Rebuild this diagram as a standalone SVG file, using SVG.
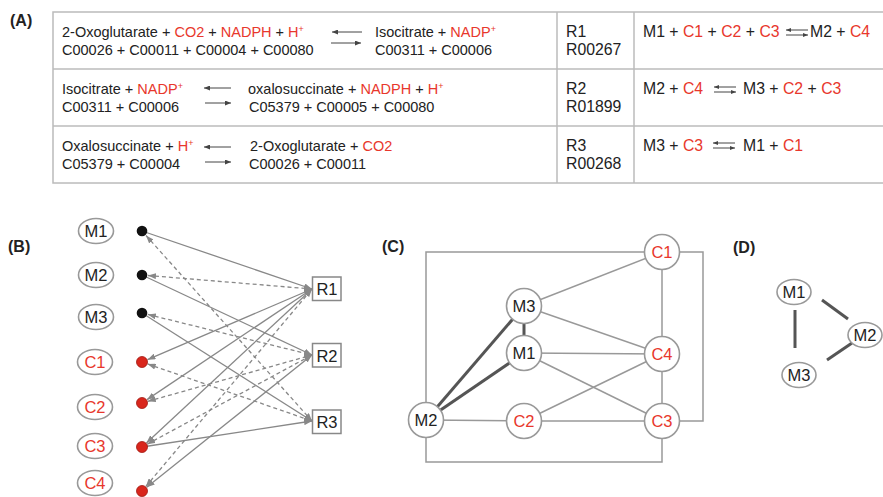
<svg xmlns="http://www.w3.org/2000/svg" width="883" height="497" viewBox="0 0 883 497">
<style>
text{font-family:"Liberation Sans",Arial,sans-serif;fill:#222}
.t{font-size:14.5px}
.t2{font-size:15.8px}
.r{fill:#e8372c}
.sup{font-size:9px}
.lbl{font-size:16px;font-weight:bold}
.grid{fill:none;stroke:#bbb;stroke-width:1.5}
.eq{stroke:#444;stroke-width:1;marker-end:url(#ah)}
.eqs{stroke:#444;stroke-width:1;marker-end:url(#ahs)}
.node{fill:#fff;stroke:#999;stroke-width:1.6}
.nt{font-size:16.5px;text-anchor:middle}
.e{stroke:#888;stroke-width:1.3;fill:none;marker-end:url(#arr)}
.d{stroke-dasharray:4 3}
.s{marker-start:url(#arr)}
.thin{stroke:#999;stroke-width:1.5;fill:none}
.thick{stroke:#555;stroke-width:3;fill:none}
.rbox{fill:#fff;stroke:#888;stroke-width:1.5}
</style>
<defs>
<marker id="arr" markerUnits="userSpaceOnUse" markerWidth="8" markerHeight="6" refX="8" refY="3" orient="auto-start-reverse"><path d="M0,0 L8,3 L0,6 z" fill="#888"/></marker>
<marker id="ah" markerUnits="userSpaceOnUse" markerWidth="6" markerHeight="5" refX="6" refY="2.5" orient="auto"><path d="M0,0 L6,2.5 L0,5 z" fill="#444"/></marker>
<marker id="ahs" markerUnits="userSpaceOnUse" markerWidth="5" markerHeight="4" refX="5" refY="2" orient="auto"><path d="M0,0 L5,2 L0,4 z" fill="#444"/></marker>
</defs>
<rect width="883" height="497" fill="#fff"/>

<!-- Panel A -->
<g id="panelA">
<text class="lbl" x="10" y="26">(A)</text>
<rect class="grid" x="53" y="12" width="900" height="171"/>
<line class="grid" x1="53" y1="69" x2="883" y2="69"/>
<line class="grid" x1="53" y1="126" x2="883" y2="126"/>
<line class="grid" x1="557" y1="12" x2="557" y2="183"/>
<line class="grid" x1="634" y1="12" x2="634" y2="183"/>

<g id="row1">
<text class="t" x="62" y="37">2-Oxoglutarate + <tspan class="r">CO2</tspan> + <tspan class="r">NADPH</tspan> + <tspan class="r">H</tspan><tspan class="r sup" dy="-5">+</tspan></text>
<text class="t" x="62" y="55">C00026 + C00011 + C00004 + C00080</text>
<line class="eq" x1="362" y1="32" x2="332" y2="32"/>
<line class="eq" x1="331" y1="43" x2="361" y2="43"/>
<text class="t" x="375" y="37">Isocitrate + <tspan class="r">NADP</tspan><tspan class="r sup" dy="-5">+</tspan></text>
<text class="t" x="375" y="55">C00311 + C00006</text>
<text class="t2" x="566" y="37">R1</text>
<text class="t2" x="566" y="55">R00267</text>
<text class="t2" x="643" y="37">M1 + <tspan class="r">C1</tspan> + <tspan class="r">C2</tspan> + <tspan class="r">C3</tspan></text>
<line class="eqs" x1="808" y1="30" x2="786" y2="30"/>
<line class="eqs" x1="786" y1="35" x2="808" y2="35"/>
<text class="t2" x="810" y="37">M2 + <tspan class="r">C4</tspan></text>
</g>

<g id="row2">
<text class="t" x="62" y="94">Isocitrate + <tspan class="r">NADP</tspan><tspan class="r sup" dy="-5">+</tspan></text>
<text class="t" x="62" y="112">C00311 + C00006</text>
<line class="eq" x1="231" y1="88" x2="204" y2="88"/>
<line class="eq" x1="205" y1="103" x2="231" y2="103"/>
<text class="t" x="248" y="94">oxalosuccinate + <tspan class="r">NADPH</tspan> + <tspan class="r">H</tspan><tspan class="r sup" dy="-5">+</tspan></text>
<text class="t" x="249" y="112">C05379 + C00005 + C00080</text>
<text class="t2" x="566" y="94">R2</text>
<text class="t2" x="566" y="112">R01899</text>
<text class="t2" x="643" y="94">M2 + <tspan class="r">C4</tspan></text>
<line class="eqs" x1="736" y1="87" x2="714" y2="87"/>
<line class="eqs" x1="714" y1="92" x2="736" y2="92"/>
<text class="t2" x="743" y="94">M3 + <tspan class="r">C2</tspan> + <tspan class="r">C3</tspan></text>
</g>

<g id="row3">
<text class="t" x="62" y="151">Oxalosuccinate + <tspan class="r">H</tspan><tspan class="r sup" dy="-5">+</tspan></text>
<text class="t" x="62" y="169">C05379 + C00004</text>
<line class="eq" x1="231" y1="147" x2="204" y2="147"/>
<line class="eq" x1="205" y1="162" x2="231" y2="162"/>
<text class="t" x="250" y="151">2-Oxoglutarate + <tspan class="r">CO2</tspan></text>
<text class="t" x="249" y="169">C00026 + C00011</text>
<text class="t2" x="566" y="151">R3</text>
<text class="t2" x="566" y="169">R00268</text>
<text class="t2" x="643" y="151">M3 + <tspan class="r">C3</tspan></text>
<line class="eqs" x1="735" y1="143" x2="713" y2="143"/>
<line class="eqs" x1="713" y1="148" x2="735" y2="148"/>
<text class="t2" x="743" y="151">M1 + <tspan class="r">C1</tspan></text>
</g>
</g>

<!-- Panel B -->
<text class="lbl" x="8" y="252">(B)</text>
<g id="B-edges">
<line class="e" x1="142" y1="231" x2="312" y2="289"/>
<line class="e d s" x1="147.98" y1="275.49" x2="312" y2="289"/>
<line class="e s" x1="147.51" y1="359.63" x2="312" y2="289"/>
<line class="e s" x1="146.98" y1="399.66" x2="312" y2="289"/>
<line class="e s" x1="146.39" y1="442.92" x2="312" y2="289"/>
<line class="e d s" x1="145.86" y1="486.41" x2="312" y2="289"/>
<line class="e" x1="142" y1="275" x2="312" y2="355"/>
<line class="e d s" x1="147.83" y1="314.44" x2="312" y2="355"/>
<line class="e d s" x1="147.78" y1="401.37" x2="312" y2="355"/>
<line class="e d s" x1="147.28" y1="444.14" x2="312" y2="355"/>
<line class="e s" x1="146.69" y1="487.25" x2="312" y2="355"/>
<line class="e" x1="142" y1="313" x2="312" y2="421"/>
<line class="e" x1="142" y1="447" x2="312" y2="421"/>
<line class="e d s" x1="146.0" y1="235.47" x2="312" y2="421"/>
<line class="e d s" x1="147.67" y1="363.97" x2="312" y2="421"/>
</g>
<g id="B-M1"><ellipse class="node" cx="96" cy="231" rx="17.5" ry="12.5"/><text class="nt" x="96" y="237">M1</text><circle cx="142" cy="231" r="5.3" fill="#111"/></g>
<g id="B-M2"><ellipse class="node" cx="96" cy="275" rx="17.5" ry="12.5"/><text class="nt" x="96" y="281">M2</text><circle cx="142" cy="275" r="5.3" fill="#111"/></g>
<g id="B-M3"><ellipse class="node" cx="96" cy="317" rx="17.5" ry="12.5"/><text class="nt" x="96" y="323">M3</text><circle cx="142" cy="313" r="5.3" fill="#111"/></g>
<g id="B-C1"><ellipse class="node" cx="95" cy="362" rx="17.5" ry="12.5"/><text class="nt r" x="95" y="368">C1</text><circle cx="142" cy="362" r="5.5" fill="#d9261c" stroke="#a01810" stroke-width="0.8"/></g>
<g id="B-C2"><ellipse class="node" cx="95" cy="407" rx="17.5" ry="12.5"/><text class="nt r" x="95" y="413">C2</text><circle cx="142" cy="403" r="5.5" fill="#d9261c" stroke="#a01810" stroke-width="0.8"/></g>
<g id="B-C3"><ellipse class="node" cx="95" cy="446" rx="17.5" ry="12.5"/><text class="nt r" x="95" y="452">C3</text><circle cx="142" cy="447" r="5.5" fill="#d9261c" stroke="#a01810" stroke-width="0.8"/></g>
<g id="B-C4"><ellipse class="node" cx="95" cy="483" rx="17.5" ry="12.5"/><text class="nt r" x="95" y="489">C4</text><circle cx="142" cy="491" r="5.5" fill="#d9261c" stroke="#a01810" stroke-width="0.8"/></g>
<g id="B-R1"><rect class="rbox" x="312.5" y="277" width="28.5" height="23.5"/><text class="nt" x="327" y="295">R1</text></g>
<g id="B-R2"><rect class="rbox" x="312.5" y="343.5" width="28.5" height="23.5"/><text class="nt" x="327" y="361.5">R2</text></g>
<g id="B-R3"><rect class="rbox" x="312.5" y="410" width="28.5" height="23.5"/><text class="nt" x="327" y="428">R3</text></g>

<!-- Panel C -->
<text class="lbl" x="382" y="252">(C)</text>
<g id="C-edges">
<path class="thin" d="M426,420 V252 H662"/>
<path class="thin" d="M662,252 H703 V421 H662"/>
<path class="thin" d="M426,420 V462 H662 V421"/>
<line class="thin" x1="524" y1="306" x2="662" y2="252"/>
<line class="thin" x1="524" y1="306" x2="662" y2="354"/>
<line class="thin" x1="524" y1="353" x2="662" y2="354"/>
<line class="thin" x1="524" y1="353" x2="662" y2="421"/>
<line class="thin" x1="426" y1="420" x2="524" y2="421"/>
<line class="thin" x1="524" y1="421" x2="662" y2="354"/>
<line class="thin" x1="524" y1="421" x2="662" y2="421"/>
<line class="thin" x1="662" y1="252" x2="662" y2="354"/>
<line class="thin" x1="662" y1="354" x2="662" y2="421"/>
<line class="thick" x1="426" y1="420" x2="524" y2="306"/>
<line class="thick" x1="426" y1="420" x2="524" y2="353"/>
<line class="thick" x1="524" y1="306" x2="524" y2="353"/>
</g>
<g id="C-C1"><circle class="node" cx="662" cy="252" r="17.5"/><text class="nt r" x="662" y="258">C1</text></g>
<g id="C-M3"><circle class="node" cx="524" cy="306" r="17.5"/><text class="nt" x="524" y="312">M3</text></g>
<g id="C-M1"><circle class="node" cx="524" cy="353" r="17.5"/><text class="nt" x="524" y="359">M1</text></g>
<g id="C-C4"><circle class="node" cx="662" cy="354" r="17.5"/><text class="nt r" x="662" y="360">C4</text></g>
<g id="C-M2"><circle class="node" cx="426" cy="420" r="17.5"/><text class="nt" x="426" y="426">M2</text></g>
<g id="C-C2"><circle class="node" cx="524" cy="421" r="17.5"/><text class="nt r" x="524" y="427">C2</text></g>
<g id="C-C3"><circle class="node" cx="662" cy="421" r="17.5"/><text class="nt r" x="662" y="427">C3</text></g>

<!-- Panel D -->
<text class="lbl" x="733" y="253">(D)</text>
<g id="D-edges">
<line class="thick" x1="795" y1="310" x2="795" y2="348"/>
<line class="thick" x1="822" y1="300" x2="848" y2="319"/>
<line class="thick" x1="827" y1="360" x2="852" y2="343"/>
</g>
<g id="D-M1"><ellipse class="node" cx="794" cy="292" rx="17" ry="12.5"/><text class="nt" x="794" y="298">M1</text></g>
<g id="D-M3"><ellipse class="node" cx="799" cy="375" rx="17" ry="12.5"/><text class="nt" x="799" y="381">M3</text></g>
<g id="D-M2"><ellipse class="node" cx="865" cy="335" rx="17" ry="12.5"/><text class="nt" x="865" y="341">M2</text></g>
</svg>
